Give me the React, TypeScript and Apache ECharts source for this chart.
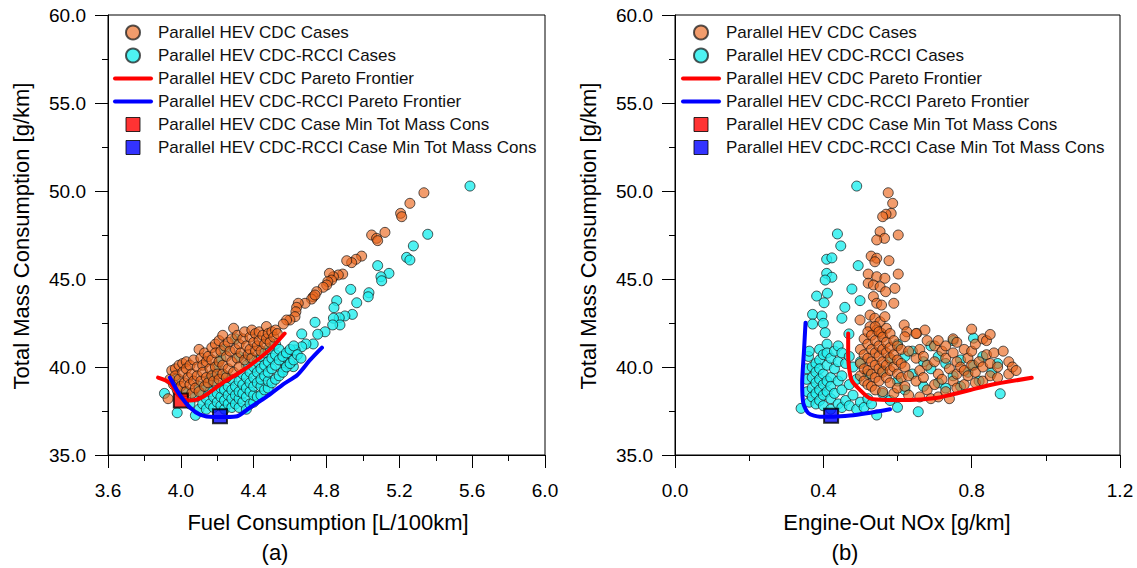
import React, { useEffect, useRef } from 'react';
import * as echarts from 'echarts';

const FONT = '"Liberation Sans", Arial, Helvetica, sans-serif';

const N_CDC = 'Parallel HEV CDC Cases';
const N_RCCI = 'Parallel HEV CDC-RCCI Cases';
const N_CDC_PF = 'Parallel HEV CDC Pareto Frontier';
const N_RCCI_PF = 'Parallel HEV CDC-RCCI Pareto Frontier';
const N_CDC_MIN = 'Parallel HEV CDC Case Min Tot Mass Cons';
const N_RCCI_MIN = 'Parallel HEV CDC-RCCI Case Min Tot Mass Cons';

// ---- Panel (a): Fuel Consumption [L/100km] vs Total Mass Consumption [g/km]
const cdcFuelMass: [number, number][] = [
  [5.335, 49.9], [5.258, 49.3], [5.207, 48.73], [5.213, 48.54], [5.121, 47.65], [5.048, 47.5], [5.075, 47.31], [5.081, 47.18],
  [4.993, 46.3], [4.962, 46.12], [4.938, 45.93], [4.911, 46.04], [4.889, 45.28], [4.865, 45.23], [4.838, 45.13], [4.816, 45.32],
  [4.828, 44.94], [4.807, 44.85], [4.801, 44.66], [4.782, 44.53], [4.746, 44.28], [4.727, 43.99], [4.718, 43.86], [4.737, 44.09],
  [4.682, 43.62], [4.645, 43.62], [4.636, 43.39], [4.632, 43.14], [4.627, 42.86], [4.599, 42.67], [4.581, 42.67], [4.563, 42.44],
  [3.93, 38.2], [3.94, 39.3], [3.95, 39.8], [3.96, 39.0], [3.97, 39.9], [3.97, 39.5], [3.98, 38.7], [3.99, 40.1], [3.99, 39.3],
  [4.00, 38.9], [4.01, 40.2], [4.01, 39.7], [4.02, 39.1], [4.03, 40.3], [4.03, 39.9], [4.03, 38.6], [4.04, 39.4], [4.05, 40.1],
  [4.05, 39.0], [4.06, 39.6], [4.06, 38.5], [4.07, 40.4], [4.07, 39.2], [4.08, 38.8], [4.09, 40.0], [4.09, 39.5], [4.10, 41.0],
  [4.10, 38.6], [4.11, 40.5], [4.11, 39.2], [4.12, 40.1], [4.12, 39.7], [4.13, 40.8], [4.13, 38.9], [4.14, 40.3], [4.14, 39.4],
  [4.15, 40.6], [4.15, 39.1], [4.16, 39.9], [4.17, 41.1], [4.17, 40.4], [4.17, 39.5], [4.18, 39.2], [4.19, 41.3], [4.19, 40.8],
  [4.19, 40.0], [4.20, 39.6], [4.21, 41.5], [4.21, 40.3], [4.21, 39.3], [4.22, 40.9], [4.23, 41.8], [4.23, 40.1], [4.23, 39.6],
  [4.24, 41.2], [4.25, 40.6], [4.25, 39.4], [4.26, 41.4], [4.26, 39.9], [4.27, 40.9], [4.28, 41.6], [4.28, 40.3], [4.29, 42.2],
  [4.29, 39.7], [4.30, 41.0], [4.31, 41.8], [4.31, 40.5], [4.32, 41.3], [4.32, 40.0], [4.33, 40.8], [4.34, 41.6], [4.35, 42.0],
  [4.35, 40.4], [4.36, 41.2], [4.37, 40.7], [4.38, 41.7], [4.38, 41.0], [4.39, 42.1], [4.39, 40.5], [4.40, 41.4], [4.41, 41.9],
  [4.41, 40.9], [4.42, 41.2], [4.43, 42.0], [4.43, 41.5], [4.44, 40.9], [4.45, 41.8], [4.46, 41.3], [4.47, 42.3], [4.47, 41.6],
  [4.48, 41.9], [4.49, 41.4], [4.50, 42.0], [4.51, 41.7], [4.52, 42.1], [4.53, 41.9],
];

const rcciFuelMass: [number, number][] = [
  [5.588, 50.28], [5.356, 47.54], [5.277, 46.88], [5.24, 46.23], [5.258, 46.08], [5.143, 45.32], [5.099, 45.13], [5.103, 44.9],
  [5.081, 45.76], [5.033, 44.22], [5.029, 43.99], [4.933, 44.41], [4.966, 43.65], [4.942, 42.99], [4.856, 43.77], [4.841, 43.37],
  [4.901, 42.9], [4.87, 42.8], [4.838, 42.77], [4.874, 42.39], [4.834, 42.39], [4.737, 42.54], [4.792, 42.0], [4.752, 41.86],
  [4.664, 41.88], [4.727, 41.31], [4.687, 41.31], [4.664, 41.15], [4.627, 40.97], [4.581, 40.68], [4.572, 40.3], [4.618, 40.02],
  [4.563, 39.83],
  [3.91, 38.5], [3.97, 39.3], [3.98, 37.4], [4.02, 38.6], [4.05, 37.9], [4.08, 37.25], [4.08, 38.3], [4.10, 37.6], [4.10, 38.9],
  [4.12, 37.9], [4.12, 38.5], [4.14, 37.6], [4.14, 38.2], [4.14, 38.9], [4.16, 37.9], [4.16, 38.6], [4.16, 39.3], [4.18, 37.7],
  [4.18, 38.3], [4.18, 39.6], [4.20, 38.0], [4.20, 38.5], [4.20, 39.0], [4.20, 40.1], [4.22, 37.8], [4.22, 38.3], [4.22, 38.8],
  [4.22, 40.5], [4.24, 37.6], [4.24, 38.1], [4.24, 38.7], [4.24, 39.5], [4.24, 41.0], [4.26, 37.9], [4.26, 38.4], [4.26, 38.9],
  [4.28, 37.7], [4.28, 38.2], [4.28, 38.7], [4.28, 39.3], [4.30, 37.9], [4.30, 38.4], [4.30, 38.9], [4.30, 41.6], [4.32, 37.7],
  [4.32, 38.2], [4.32, 38.6], [4.32, 39.2], [4.32, 40.6], [4.34, 38.0], [4.34, 38.5], [4.34, 39.0], [4.34, 39.6], [4.36, 37.6],
  [4.36, 38.3], [4.36, 38.8], [4.36, 39.4], [4.36, 40.1], [4.38, 37.9], [4.38, 38.6], [4.38, 39.1], [4.38, 39.7], [4.38, 40.5],
  [4.40, 38.0], [4.40, 38.4], [4.40, 38.9], [4.40, 39.4], [4.40, 40.0], [4.42, 38.3], [4.42, 39.1], [4.42, 39.7], [4.42, 40.3],
  [4.44, 38.4], [4.44, 38.9], [4.44, 39.3], [4.44, 39.9], [4.44, 40.6], [4.46, 38.7], [4.46, 39.5], [4.46, 40.1], [4.46, 40.8],
  [4.48, 38.8], [4.48, 39.2], [4.48, 39.7], [4.48, 40.3], [4.48, 41.0], [4.50, 39.1], [4.50, 39.9], [4.50, 40.5], [4.52, 39.3],
  [4.52, 40.1], [4.52, 40.7], [4.52, 41.3], [4.54, 39.5], [4.54, 40.4], [4.54, 41.0], [4.56, 39.7], [4.56, 40.6], [4.58, 40.0],
  [4.58, 40.8], [4.60, 40.2], [4.60, 41.0], [4.62, 40.4], [4.62, 41.2], [4.64, 40.7], [4.66, 40.5],
];

const cdcParetoFuel: [number, number][] = [
  [3.875, 39.4], [3.94, 39.1], [3.985, 38.4], [4.02, 38.15], [4.05, 38.1], [4.12, 38.3], [4.23, 39.1],
  [4.325, 39.7], [4.42, 40.4], [4.5, 41.1], [4.57, 41.9],
];
const rcciParetoFuel: [number, number][] = [
  [3.94, 39.4], [3.995, 38.4], [4.05, 37.7], [4.105, 37.3], [4.18, 37.16], [4.25, 37.16], [4.31, 37.2],
  [4.38, 37.7], [4.47, 38.3], [4.56, 39.0], [4.64, 39.55], [4.71, 40.4], [4.775, 41.1],
];
const cdcMinFuel: [number, number][] = [[4.0, 38.1]];
const rcciMinFuel: [number, number][] = [[4.215, 37.2]];

// ---- Panel (b): Engine-Out NOx [g/km] vs Total Mass Consumption [g/km]
const cdcNoxMass: [number, number][] = [
  [0.575, 49.9], [0.587, 49.3], [0.583, 48.73], [0.569, 48.68], [0.56, 48.54], [0.602, 47.5], [0.553, 47.69], [0.565, 47.31],
  [0.544, 47.22], [0.529, 46.3], [0.544, 46.18], [0.539, 45.98], [0.577, 46.04], [0.602, 45.28], [0.521, 45.28], [0.544, 45.13],
  [0.566, 45.04], [0.521, 44.76], [0.535, 44.66], [0.553, 44.56], [0.568, 44.28], [0.593, 44.47], [0.535, 44.0], [0.544, 43.62],
  [0.557, 43.52], [0.59, 43.62], [0.526, 42.95], [0.539, 42.77], [0.553, 42.57], [0.566, 42.86], [0.499, 42.67], [0.526, 42.29],
  [0.544, 42.1], [0.557, 41.91], [0.618, 42.39], [0.625, 42.0], [0.62, 41.72], [0.652, 41.91], [0.674, 42.1],
  [0.50, 41.0], [0.50, 40.2], [0.50, 39.5], [0.51, 41.6], [0.51, 40.7], [0.51, 39.9], [0.51, 39.2], [0.52, 42.0], [0.52, 41.3],
  [0.52, 40.5], [0.52, 39.8], [0.52, 39.0], [0.53, 41.8], [0.53, 41.0], [0.53, 40.3], [0.53, 39.6], [0.53, 38.9], [0.54, 42.3],
  [0.54, 41.5], [0.54, 40.8], [0.54, 40.1], [0.54, 39.4], [0.54, 38.7], [0.55, 42.0], [0.55, 41.2], [0.55, 40.6], [0.55, 39.9],
  [0.55, 39.2], [0.56, 41.7], [0.56, 41.0], [0.56, 40.3], [0.56, 39.7], [0.56, 38.6], [0.57, 42.2], [0.57, 41.4], [0.57, 40.8],
  [0.57, 40.1], [0.57, 39.4], [0.58, 41.9], [0.58, 41.1], [0.58, 40.5], [0.58, 39.8], [0.58, 39.1], [0.59, 41.5], [0.59, 40.7],
  [0.59, 40.0], [0.59, 38.5], [0.60, 41.2], [0.60, 40.4], [0.60, 39.6], [0.60, 38.8], [0.61, 41.0], [0.61, 40.2], [0.61, 39.4],
  [0.62, 40.0], [0.62, 38.9], [0.63, 40.9], [0.63, 39.5], [0.63, 38.4], [0.65, 41.9], [0.65, 40.5], [0.65, 39.2], [0.66, 41.0],
  [0.66, 39.8], [0.66, 38.3], [0.67, 40.6], [0.67, 39.4], [0.68, 41.5], [0.68, 40.1], [0.68, 38.7], [0.69, 38.2], [0.70, 41.2],
  [0.70, 40.3], [0.70, 39.0], [0.71, 41.5], [0.71, 39.6], [0.71, 38.3], [0.72, 40.9], [0.72, 39.3], [0.73, 41.2], [0.73, 40.5],
  [0.73, 38.6], [0.74, 39.9], [0.74, 38.2], [0.75, 41.6], [0.75, 40.8], [0.75, 39.2], [0.76, 41.4], [0.76, 40.3], [0.76, 39.6],
  [0.76, 38.8], [0.77, 40.0], [0.78, 41.0], [0.78, 39.8], [0.78, 39.0], [0.79, 40.5], [0.79, 39.5], [0.80, 42.15], [0.80, 40.9],
  [0.80, 40.1], [0.81, 41.3], [0.81, 39.7], [0.81, 39.1], [0.82, 40.3], [0.83, 41.6], [0.83, 40.0], [0.83, 39.2], [0.84, 41.5],
  [0.84, 40.7], [0.85, 41.85], [0.85, 40.2], [0.85, 39.5], [0.86, 40.8], [0.87, 40.0], [0.87, 39.4], [0.885, 40.9], [0.90, 40.3],
  [0.90, 39.6], [0.91, 40.0], [0.92, 39.8],
];

const rcciNoxMass: [number, number][] = [
  [0.49, 50.28], [0.438, 47.56], [0.447, 46.88], [0.409, 46.12], [0.423, 46.2], [0.494, 45.76], [0.409, 45.32], [0.423, 45.1],
  [0.405, 44.94], [0.477, 44.43], [0.382, 44.03], [0.411, 44.19], [0.402, 43.65], [0.499, 43.77], [0.458, 43.39], [0.45, 42.77],
  [0.371, 42.99], [0.396, 42.9], [0.40, 42.48], [0.405, 41.95], [0.371, 42.44], [0.469, 41.88],
  [0.34, 37.65], [0.355, 39.9], [0.355, 39.3], [0.357, 38.6], [0.36, 40.6], [0.362, 40.9], [0.362, 38.0], [0.37, 40.0],
  [0.37, 39.4], [0.37, 38.8], [0.37, 38.3], [0.38, 40.2], [0.38, 39.7], [0.38, 39.1], [0.38, 38.5], [0.38, 37.9], [0.39, 41.0],
  [0.39, 40.4], [0.39, 39.9], [0.39, 39.3], [0.39, 38.7], [0.39, 38.1], [0.40, 40.7], [0.40, 39.6], [0.40, 39.0], [0.40, 38.4],
  [0.40, 37.8], [0.41, 41.3], [0.41, 40.8], [0.41, 40.1], [0.41, 39.2], [0.41, 38.6], [0.42, 40.5], [0.42, 39.4], [0.42, 38.9],
  [0.42, 38.2], [0.42, 37.6], [0.43, 40.9], [0.43, 39.9], [0.43, 38.5], [0.44, 41.2], [0.44, 40.3], [0.44, 39.2], [0.44, 37.9],
  [0.45, 40.8], [0.45, 39.5], [0.45, 38.7], [0.45, 37.7], [0.46, 40.2], [0.46, 38.1], [0.47, 40.6], [0.47, 39.0], [0.47, 37.8],
  [0.48, 40.0], [0.48, 38.4], [0.49, 39.3], [0.49, 37.6], [0.50, 40.3], [0.50, 38.0], [0.51, 37.7], [0.52, 38.2], [0.52, 39.6],
  [0.53, 37.9], [0.544, 37.27], [0.56, 38.5], [0.56, 39.8], [0.58, 38.1], [0.58, 40.4], [0.60, 37.71], [0.60, 39.2], [0.60, 41.3],
  [0.62, 40.6], [0.62, 38.7], [0.64, 39.6], [0.64, 40.9], [0.656, 37.46], [0.67, 40.3], [0.67, 38.9], [0.69, 39.9], [0.69, 41.2],
  [0.71, 40.6], [0.71, 39.1], [0.73, 38.8], [0.73, 40.2], [0.75, 39.5], [0.75, 41.5], [0.77, 38.9], [0.77, 40.4], [0.79, 39.7],
  [0.805, 41.64], [0.805, 40.1], [0.82, 39.2], [0.83, 40.6], [0.854, 39.68], [0.877, 38.48], [0.87, 40.2],
];

const cdcParetoNox: [number, number][] = [
  [0.467, 41.91], [0.467, 40.59], [0.476, 39.26], [0.499, 38.69], [0.526, 38.22], [0.571, 38.13], [0.634, 38.13],
  [0.697, 38.22], [0.742, 38.41], [0.796, 38.69], [0.85, 38.98], [0.962, 39.39],
];
const rcciParetoNox: [number, number][] = [
  [0.352, 42.52], [0.348, 40.97], [0.343, 39.07], [0.346, 37.94], [0.36, 37.37], [0.391, 37.18], [0.427, 37.18],
  [0.472, 37.24], [0.517, 37.37], [0.58, 37.6],
];
const rcciMinNox: [number, number][] = [[0.421, 37.23]];

// axis ranges
const massAxis = { min: 35, max: 60, interval: 5 };
const fuelAxis = { min: 3.6, max: 6.0, interval: 0.4 };
const noxAxis = { min: 0, max: 1.2, interval: 0.4 };

const ORANGE = 'rgba(235,100,25,0.8)';
const CYAN = '#22EFEF';

const LINE_ICON = 'path://M2,0L38,0A2,2,0,0,1,38,4L2,4A2,2,0,0,1,2,0Z';
const SQUARE_ICON = 'path://M0,0L13,0L13,13L0,13Z';

export default function App() {
  const ref = useRef<HTMLDivElement>(null);

  useEffect(() => {
    document.body.style.margin = '0';
    if (!ref.current) return;
    const chart = echarts.init(ref.current, undefined, { renderer: 'svg' });

    const xAxisBase = (r: { min: number; max: number; interval: number }, gridIndex: number) => ({
      type: 'value',
      gridIndex,
      min: r.min,
      max: r.max,
      interval: r.interval,
      axisLine: { show: true, onZero: false, lineStyle: { color: '#000', width: 1 } },
      axisTick: { show: true, inside: false, length: 13, lineStyle: { color: '#000', width: 1 } },
      minorTick: { show: true, splitNumber: 2, length: 6, lineStyle: { color: '#000', width: 1 } },
      splitLine: { show: false },
      axisLabel: {
        margin: 26,
        color: '#000',
        fontSize: 19,
        fontFamily: FONT,
        formatter: (v: number) => v.toFixed(1),
        showMinLabel: true,
        showMaxLabel: true,
      },
    });
    const yAxisBase = (gridIndex: number) => ({
      type: 'value',
      gridIndex,
      min: massAxis.min,
      max: massAxis.max,
      interval: massAxis.interval,
      axisLine: { show: true, onZero: false, lineStyle: { color: '#000', width: 1 } },
      axisTick: { show: true, inside: false, length: 13, lineStyle: { color: '#000', width: 1 } },
      minorTick: { show: true, splitNumber: 2, length: 6, lineStyle: { color: '#000', width: 1 } },
      splitLine: { show: false },
      axisLabel: {
        margin: 22,
        color: '#000',
        fontSize: 19,
        fontFamily: FONT,
        formatter: (v: number) => v.toFixed(1),
        showMinLabel: true,
        showMaxLabel: true,
      },
    });

    const scatter = (name: string, data: [number, number][], idx: number, color: string) => ({
      name,
      type: 'scatter',
      xAxisIndex: idx,
      yAxisIndex: idx,
      data,
      symbol: 'circle',
      symbolSize: 10,
      itemStyle: { color, borderColor: 'rgba(20,20,20,0.9)', borderWidth: 1 },
      emphasis: { disabled: true },
    });
    const line = (name: string, data: [number, number][], idx: number, color: string) => ({
      name,
      type: 'line',
      xAxisIndex: idx,
      yAxisIndex: idx,
      data,
      symbol: 'none',
      showSymbol: false,
      smooth: 0.25,
      lineStyle: { color, width: 4, cap: 'round', join: 'round' },
      itemStyle: { color, borderWidth: 0 },
      emphasis: { disabled: true },
    });
    const square = (name: string, data: [number, number][], idx: number, color: string) => ({
      name,
      type: 'scatter',
      xAxisIndex: idx,
      yAxisIndex: idx,
      data,
      symbol: 'rect',
      symbolSize: 14,
      itemStyle: { color, borderColor: '#000', borderWidth: 2 },
      emphasis: { disabled: true },
    });

    const legendData = [
      { name: N_CDC, icon: 'circle' },
      { name: N_RCCI, icon: 'circle' },
      { name: N_CDC_PF, icon: LINE_ICON, itemStyle: { color: '#FF0000', borderWidth: 0 } },
      { name: N_RCCI_PF, icon: LINE_ICON, itemStyle: { color: '#0000FF', borderWidth: 0 } },
      { name: N_CDC_MIN, icon: SQUARE_ICON, itemStyle: { borderWidth: 1 } },
      { name: N_RCCI_MIN, icon: SQUARE_ICON, itemStyle: { borderWidth: 1 } },
    ];
    const legendBase = (left: number) => ({
      left,
      top: 24,
      orient: 'vertical',
      padding: 0,
      itemWidth: 40,
      itemHeight: 14,
      itemGap: 6,
      symbolKeepAspect: true,
      selectedMode: false,
      textStyle: { color: '#111', fontSize: 17, fontFamily: FONT },
      data: legendData,
    });

    const titleText = (text: string, x: number, y: number, rotation = 0) => ({
      type: 'text',
      x,
      y,
      rotation,
      silent: true,
      style: {
        text,
        fill: '#000',
        fontSize: 22,
        fontFamily: FONT,
        align: 'center',
        verticalAlign: 'middle',
      },
    });

    chart.setOption({
      animation: false,
      backgroundColor: '#fff',
      grid: [
        { left: 108, top: 15, width: 437, height: 440, show: true, borderColor: '#000', borderWidth: 1 },
        { left: 675, top: 15, width: 445, height: 440, show: true, borderColor: '#000', borderWidth: 1 },
      ],
      xAxis: [xAxisBase(fuelAxis, 0), xAxisBase(noxAxis, 1)],
      yAxis: [yAxisBase(0), yAxisBase(1)],
      legend: [legendBase(113), legendBase(681)],
      graphic: [
        titleText('Total Mass Consumption [g/km]', 21, 236, Math.PI / 2),
        titleText('Total Mass Consumption [g/km]', 588, 236, Math.PI / 2),
        titleText('Fuel Consumption [L/100km]', 328, 522),
        titleText('Engine-Out NOx [g/km]', 897, 522),
        titleText('(a)', 275, 552),
        titleText('(b)', 845, 552),
      ],
      series: [
        scatter(N_RCCI, rcciFuelMass, 0, CYAN),
        scatter(N_CDC, cdcFuelMass, 0, ORANGE),
        line(N_CDC_PF, cdcParetoFuel, 0, '#FF0000'),
        line(N_RCCI_PF, rcciParetoFuel, 0, '#0000FF'),
        square(N_CDC_MIN, cdcMinFuel, 0, '#FF0000'),
        square(N_RCCI_MIN, rcciMinFuel, 0, '#0000FF'),
        scatter(N_RCCI, rcciNoxMass, 1, CYAN),
        scatter(N_CDC, cdcNoxMass, 1, ORANGE),
        line(N_CDC_PF, cdcParetoNox, 1, '#FF0000'),
        line(N_RCCI_PF, rcciParetoNox, 1, '#0000FF'),
        square(N_RCCI_MIN, rcciMinNox, 1, '#0000FF'),
      ],
    });

    return () => {
      chart.dispose();
    };
  }, []);

  return <div ref={ref} style={{ width: 1137, height: 568 }} />;
}
